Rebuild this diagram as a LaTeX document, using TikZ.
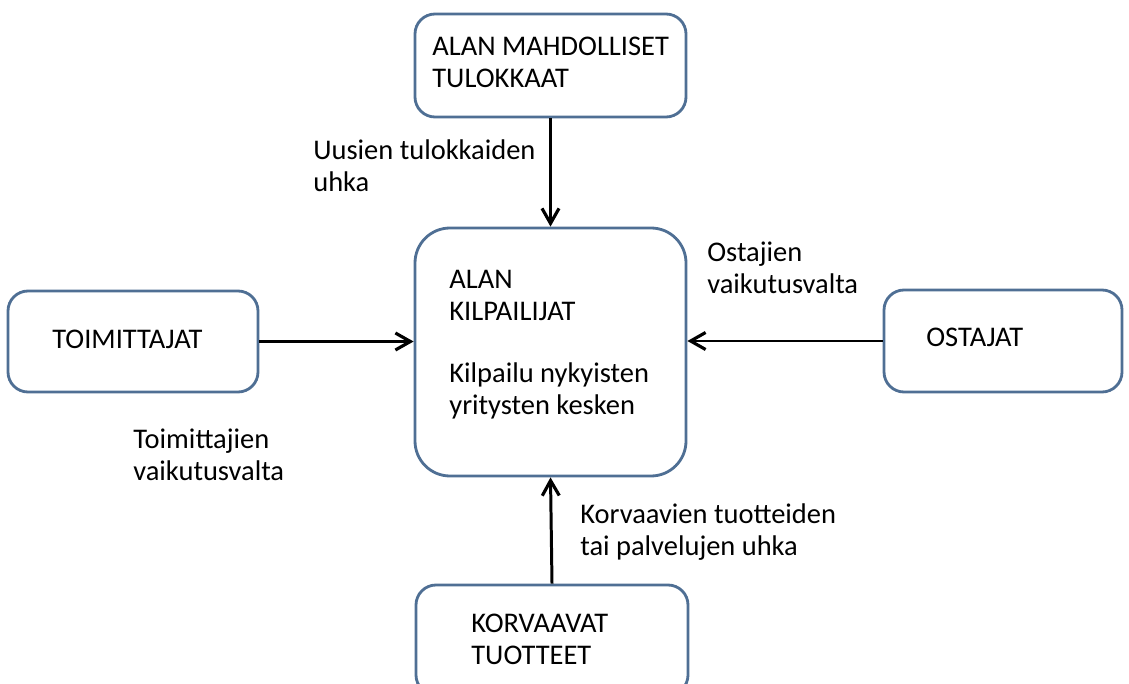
\documentclass[tikz,border=0pt]{standalone}
\usepackage{fontspec}
\setmainfont{Carlito}
\usetikzlibrary{arrows.meta}
\definecolor{boxblue}{RGB}{79,111,148}

\begin{document}
\begin{tikzpicture}[x=0.2mm,y=-0.2mm,
    force/.style={draw=boxblue,line width=1.6pt,rounded corners=4mm,fill=white},
    push/.style={line width=1.7pt,-{Straight Barb[length=3mm,width=3.4mm,line width=1.8pt]}},
    lbl/.style={anchor=north west,inner sep=0pt,align=left,font=\fontsize{16.2}{18.2}\selectfont}]
    \useasboundingbox (0,0) rectangle (1129,684);

    \coordinate (P1) at (550.5, 65.5);
    \coordinate (P2) at (550.5, 352);
    \coordinate (P3) at (133, 341.5);
    \coordinate (P4) at (1003, 341);
    \coordinate (P5) at (552, 640);

%boxes
    \node[force, minimum width=54.2mm, minimum height=20.6mm] (entrants) at (P1) {};
    \node[force, rounded corners=7mm, minimum width=54.2mm, minimum height=49.6mm] (rivals) at (P2) {};
    \node[force, minimum width=50mm, minimum height=20.2mm] (suppliers) at (P3) {};
    \node[force, minimum width=47.6mm, minimum height=20.4mm] (buyers) at (P4) {};
    \node[force, minimum width=54.4mm, minimum height=22mm] (substitutes) at (P5) {};

%arrows
    \draw[push] (entrants.south) -- (rivals.north);
    \draw[push] (suppliers.east) -- (suppliers.east -| rivals.west);
    \draw[push] (buyers.west) -- (buyers.west -| rivals.east);
    \draw[push] (substitutes.north) -- (rivals.south);

%labels
    \node[lbl] (t1) at (432, 37) {ALAN MAHDOLLISET\\TULOKKAAT};
    \node[lbl] (t2) at (313, 139) {Uusien tulokkaiden\\uhka};
    \node[lbl] (t3) at (449, 270) {ALAN\\KILPAILIJAT};
    \node[lbl] (t4) at (449, 362) {Kilpailu nykyisten\\yritysten kesken};
    \node[lbl] (t5) at (707, 242) {Ostajien\\vaikutusvalta};
    \node[lbl] (t6) at (52, 330) {TOIMITTAJAT};
    \node[lbl] (t7) at (926, 328) {OSTAJAT};
    \node[lbl] (t8) at (133, 429) {Toimittajien\\vaikutusvalta};
    \node[lbl] (t9) at (580, 503) {Korvaavien tuotteiden\\tai palvelujen uhka};
    \node[lbl] (t10) at (471, 614) {KORVAAVAT\\TUOTTEET};

\end{tikzpicture}
\end{document}
